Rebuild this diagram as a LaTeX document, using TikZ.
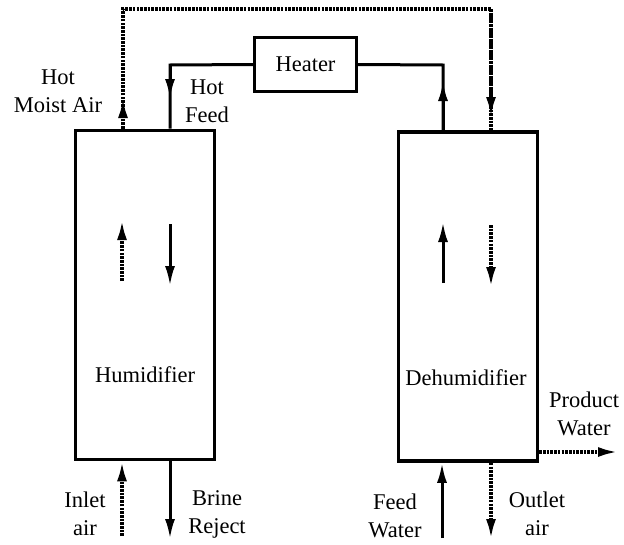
\documentclass[tikz,border=0pt]{standalone}
\usepackage{fontspec}
\setmainfont{Liberation Serif}
\usetikzlibrary{arrows.meta,positioning}

\begin{document}
\begin{tikzpicture}[x=1pt, y=-1pt,
  unit/.style={draw, line width=3.6pt, minimum width=139pt, minimum height=329pt, inner sep=0pt},
  hbox/.style={draw, line width=3.2pt, minimum width=102pt, minimum height=54pt, inner sep=0pt, font=\fontsize{22.5}{27}\selectfont},
  lbl/.style={align=center, inner sep=0pt, font=\fontsize{22.5}{28}\selectfont},
  feed/.style={line width=3pt},
  air/.style={line width=3.4pt, dash pattern=on 2.6pt off 1.1pt},
  flowtip/.style={-{Latex[length=20pt,width=10pt]}}
]
\useasboundingbox (0,0) rectangle (624,544);
% units
\node[unit] (hum) at (145,295) {};
\node[unit] (dehum) at (468,296.5) {};
\node[hbox] (heater) at (305.5,64.5) {Heater};
\node[lbl] (humtxt) at (145,375) {Humidifier};
\node[lbl] (dehumtxt) at (466,378) {Dehumidifier};
% corner points
\coordinate (hf) at (170,65);
\coordinate (hw) at (443,65);
\coordinate (ma) at (123,9);
\coordinate (md) at (491,9);
% hot feed from heater to humidifier
\draw[feed] (heater.west) -- (hf) -- (hf |- hum.north);
\draw[feed, flowtip] (hf) -- (170,99);
% water from dehumidifier to heater
\draw[feed] (hw |- dehum.north) -- (hw) -- (heater.east);
\draw[feed, flowtip] (hw |- dehum.north) -- (443,81);
% moist air loop
\draw[air] (ma |- hum.north) -- (ma) -- (md) -- (md |- dehum.north);
\draw[air, flowtip] (ma |- hum.north) -- (123,98);
\draw[air, flowtip] (md) -- (491,117);
\node[lbl] (hma) at (58,91) {Hot\\Moist Air};
\node[lbl] (hfd) at (207,101) {Hot\\Feed};
% flows inside the humidifier
\coordinate (h1a) at (122,281);
\coordinate (h1b) at (122,220);
\coordinate (h2a) at (170,224);
\coordinate (h2b) at (170,286);
\draw[air, flowtip] (h1a) -- (h1b);
\draw[feed, flowtip] (h2a) -- (h2b);
% flows inside the dehumidifier
\coordinate (d1a) at (443,283);
\coordinate (d1b) at (443,222);
\coordinate (d2a) at (491,225);
\coordinate (d2b) at (491,287);
\draw[feed, flowtip] (d1a) -- (d1b);
\draw[air, flowtip] (d2a) -- (d2b);
% humidifier bottom
\coordinate (inl) at (122,536);
\coordinate (brn) at (170,539);
\draw[air, flowtip] (inl) -- (inl |- hum.south);
\draw[feed, flowtip] (brn |- hum.south) -- (brn);
\node[lbl] (inltxt) at (85,514) {Inlet\\air};
\node[lbl] (brntxt) at (217,514) {Brine\\Reject};
% dehumidifier bottom
\coordinate (fw) at (442,538);
\coordinate (oa) at (491,539);
\draw[feed, flowtip] (fw) -- (fw |- dehum.south);
\draw[air, flowtip] (oa |- dehum.south) -- (oa);
\node[lbl] (fwtxt) at (395,516) {Feed\\Water};
\node[lbl] (oatxt) at (537,514) {Outlet\\air};
% product water
\coordinate (pw) at (618,452);
\draw[air, flowtip] (dehum.east |- pw) -- (pw);
\node[lbl] (pwtxt) at (584,414) {Product\\Water};
\end{tikzpicture}
\end{document}
